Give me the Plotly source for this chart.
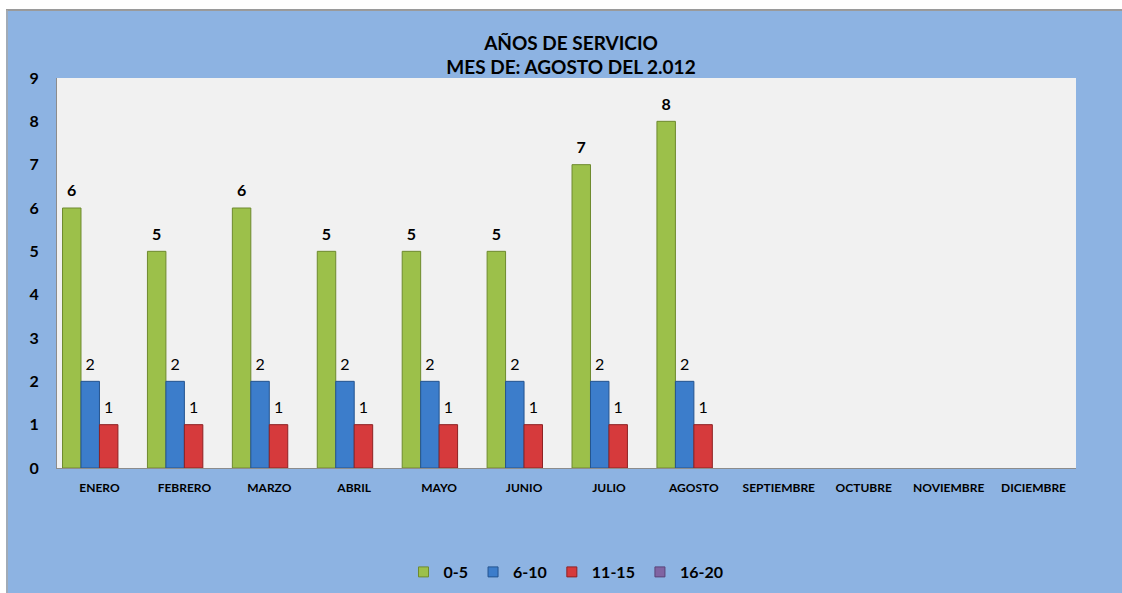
import plotly.graph_objects as go

months = ["ENERO", "FEBRERO", "MARZO", "ABRIL", "MAYO", "JUNIO", "JULIO",
          "AGOSTO", "SEPTIEMBRE", "OCTUBRE", "NOVIEMBRE", "DICIEMBRE"]
series_names = ["0-5", "6-10", "11-15", "16-20"]
v_0_5 = [6, 5, 6, 5, 5, 5, 7, 8, None, None, None, None]
v_6_10 = [2, 2, 2, 2, 2, 2, 2, 2, None, None, None, None]
v_11_15 = [1, 1, 1, 1, 1, 1, 1, 1, None, None, None, None]
v_16_20 = [None] * 12
y_ticks = list(range(0, 10))

colors = ["#9CC04A", "#3C7DCB", "#D63A3C", "#8064A2"]
edges = ["#6E8A2E", "#24548F", "#8E2224", "#5A4478"]
bold_label = [True, False, False, False]
FONT = "Lato"

fig = go.Figure()
for name, vals, c, e, b in zip(series_names, [v_0_5, v_6_10, v_11_15, v_16_20],
                               colors, edges, bold_label):
    num = "<b>%{y}</b>" if b else "%{y}"
    fig.add_trace(go.Bar(
        x=months, y=vals, name=name, showlegend=False,
        marker=dict(color=c, line=dict(color=e, width=1)),
        texttemplate="<span style='font-size:16px'>" + num + "</span><br> ",
        textposition="outside", textangle=0, constraintext="none",
        cliponaxis=False,
        textfont=dict(family=FONT, size=6, color="#000000"),
        hoverinfo="x+y+name",
    ))

# legend entries with small square keys
for name, c, e in zip(series_names, colors, edges):
    fig.add_trace(go.Scatter(
        x=[None], y=[None], mode="markers", name=name,
        marker=dict(symbol="square", size=10, color=c, line=dict(color=e, width=1)),
    ))

W, H = 1122, 593
L, R, T, B = 57, 46, 78, 125
PW, PH = W - L - R, H - T - B

def px_x(p):
    return (p - L) / PW

def px_y(p):
    return (H - B - p) / PH

fig.update_layout(
    width=W, height=H,
    margin=dict(l=L, r=R, t=T, b=B, pad=0, autoexpand=False),
    paper_bgcolor="#8DB3E2",
    plot_bgcolor="#F1F1F1",
    barmode="group",
    bargap=0.13,
    bargroupgap=0,
    font=dict(family=FONT, color="#000000"),
    title=dict(
        text="<b>AÑOS DE SERVICIO<br>MES DE: AGOSTO DEL 2.012</b>",
        x=px_x(571), xref="paper", xanchor="center",
        y=1 - 49.5 / H, yref="container", yanchor="middle",
        font=dict(family=FONT, size=19, color="#000000"),
    ),
    legend=dict(
        orientation="h", x=px_x(566), xanchor="center",
        y=(H - 572) / H, yref="container", yanchor="middle",
        font=dict(family=FONT, size=16, color="#000000", weight="bold"),
        bgcolor="rgba(0,0,0,0)", itemwidth=30, tracegroupgap=0,
    ),
    xaxis=dict(
        type="category", categoryorder="array", categoryarray=months,
        showline=True, linecolor="#8C8C8C", linewidth=1, automargin=False,
        showgrid=False, ticks="", ticklabelstandoff=9,
        tickfont=dict(family=FONT, size=12, color="#000000", weight="bold"),
    ),
    yaxis=dict(
        range=[0, 9], tickmode="array", tickvals=y_ticks, automargin=False,
        showline=True, linecolor="#8C8C8C", linewidth=1,
        showgrid=False, zeroline=False, ticks="", ticklabelstandoff=14,
        tickfont=dict(family=FONT, size=16, color="#000000", weight="bold"),
    ),
    shapes=[
        # white page strip at the top and left, with the chart's grey frame
        dict(type="rect", xref="paper", yref="paper",
             x0=px_x(-5), x1=px_x(W + 5), y0=px_y(9), y1=px_y(-5),
             fillcolor="#FFFFFF", line=dict(width=0), layer="above"),
        dict(type="rect", xref="paper", yref="paper",
             x0=px_x(-5), x1=px_x(6), y0=px_y(H + 5), y1=px_y(-5),
             fillcolor="#FFFFFF", line=dict(width=0), layer="above"),
        dict(type="line", xref="paper", yref="paper",
             x0=px_x(6), x1=px_x(W + 5), y0=px_y(10), y1=px_y(10),
             line=dict(color="#9A9A9A", width=2), layer="above"),
        dict(type="line", xref="paper", yref="paper",
             x0=px_x(7), x1=px_x(7), y0=px_y(H + 5), y1=px_y(10),
             line=dict(color="#A8A8A8", width=1.5), layer="above"),
    ],
)

fig.write_html(
    "out.html",
    config={"displayModeBar": False},
    post_script="document.body.style.margin='0';"
                "document.documentElement.style.overflow='hidden';",
)
